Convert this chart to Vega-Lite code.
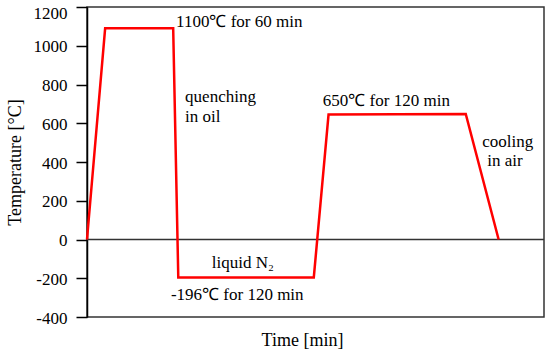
{
  "$schema": "https://vega.github.io/schema/vega-lite/v6.json",
  "width": 457,
  "height": 310,
  "autosize": {"type": "none"},
  "padding": {"left": 87, "top": 7, "right": 6, "bottom": 38},
  "background": "white",
  "config": {
    "view": {"stroke": "#333", "strokeWidth": 1.5},
    "font": "Liberation Serif",
    "axis": {
      "labelFont": "Times New Roman, Liberation Serif, serif",
      "labelFontSize": 17,
      "labelColor": "black",
      "titleFont": "Liberation Serif",
      "titleFontSize": 18,
      "titleFontWeight": "normal",
      "titleColor": "black",
      "grid": false
    }
  },
  "datasets": {
    "profile": [
      {"time": 0, "temp": 0},
      {"time": 16, "temp": 1090},
      {"time": 76, "temp": 1090},
      {"time": 80.5, "temp": -196},
      {"time": 200, "temp": -196},
      {"time": 213, "temp": 645},
      {"time": 334, "temp": 648},
      {"time": 363, "temp": 0}
    ],
    "notes": [
      {"time": 78.5, "temp": 1123, "label": "1100℃ for 60 min"},
      {"time": 86.5, "temp": 735, "label": "quenching"},
      {"time": 86.5, "temp": 632, "label": "in oil"},
      {"time": 208, "temp": 715, "label": "650℃ for 120 min"},
      {"time": 348.5, "temp": 503, "label": "cooling"},
      {"time": 353, "temp": 405, "label": "in air"},
      {"time": 110, "temp": -121, "label": "liquid N₂"},
      {"time": 74, "temp": -286, "label": "-196℃ for 120 min"}
    ],
    "baseline": [{"temp": 0}]
  },
  "encoding": {
    "x": {
      "field": "time",
      "type": "quantitative",
      "scale": {"domain": [0, 403], "nice": false, "zero": false},
      "axis": {
        "title": "Time [min]",
        "labels": false,
        "ticks": false,
        "domain": false,
        "titlePadding": 14,
        "titleX": 215
      }
    },
    "y": {
      "field": "temp",
      "type": "quantitative",
      "scale": {"domain": [-400, 1200], "nice": false, "zero": false},
      "axis": {
        "title": "Temperature [°C]",
        "values": [-400, -200, 0, 200, 400, 600, 800, 1000, 1200],
        "labelExpr": "'' + datum.value",
        "labelFont": "Times New Roman, Liberation Serif, serif",
        "labelOffset": {"condition": {"test": "datum.value == 1200", "value": 6}, "value": 1},
        "domainColor": "black",
        "domainWidth": 1.5,
        "tickColor": "black",
        "tickWidth": 1.5,
        "tickSize": 11,
        "labelPadding": 9,
        "titlePadding": 9
      }
    }
  },
  "layer": [
    {
      "data": {"name": "baseline"},
      "mark": {"type": "rule", "color": "#333", "strokeWidth": 1.3},
      "encoding": {"x": null}
    },
    {
      "data": {"name": "profile"},
      "mark": {"type": "line", "color": "#ff0000", "strokeWidth": 2.5, "strokeJoin": "miter"}
    },
    {
      "data": {"name": "notes"},
      "mark": {"type": "text", "align": "left", "baseline": "middle", "font": "Liberation Serif", "fontSize": 17, "color": "black"},
      "encoding": {"text": {"field": "label"}}
    }
  ]
}
